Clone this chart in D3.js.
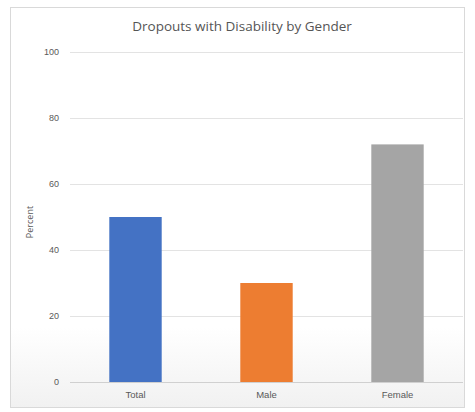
<!DOCTYPE html>
<html>
<head>
<meta charset="utf-8">
<script src="https://cdn.jsdelivr.net/npm/d3@7.9.0/dist/d3.min.js"></script>
<style>
  body { margin: 0; background: #fff; }
  svg { display: block; font-family: "Open Sans", "Noto Sans", sans-serif; }
</style>
</head>
<body>
<div id="chart"></div>
<script>
const categories = ['Total', 'Male', 'Female'];
const values = [50, 30, 72];
const colors = ['#4472c4', '#ed7d31', '#a5a5a5'];
const yTicks = [0, 20, 40, 60, 80, 100];

const width = 475;
const height = 412;

const svg = d3.select('#chart')
  .append('svg')
  .attr('width', width)
  .attr('height', height);

// soft background like the screenshot
const grad = svg.append('defs').append('linearGradient')
  .attr('id', 'bg').attr('x1', 0).attr('y1', 0).attr('x2', 0).attr('y2', 1);
grad.append('stop').attr('offset', '0.8').attr('stop-color', '#ffffff');
grad.append('stop').attr('offset', '1').attr('stop-color', '#f1f1f1');

svg.append('rect')
  .attr('x', 10.5).attr('y', 7.5)
  .attr('width', 454).attr('height', 400)
  .attr('fill', 'url(#bg)')
  .attr('stroke', '#d9d9d9');

const x = d3.scaleBand()
  .domain(categories)
  .range([70, 463])
  .paddingInner(0.6)
  .paddingOuter(0.3);

const y = d3.scaleLinear()
  .domain([0, 100])
  .range([382, 52]);

// gridlines
svg.append('g')
  .attr('transform', 'translate(70,0)')
  .call(d3.axisLeft(y).tickValues(yTicks).tickFormat('').tickSize(-393))
  .call(g => g.select('.domain').remove())
  .call(g => g.selectAll('line').attr('stroke', '#e3e3e3'));

// y tick labels
svg.append('g')
  .attr('transform', 'translate(70,0)')
  .call(d3.axisLeft(y).tickValues(yTicks).tickSize(0).tickPadding(11))
  .call(g => g.select('.domain').remove())
  .call(g => g.selectAll('text').attr('fill', '#595959').style('font-size', '9px'));

// bars
svg.append('g')
  .selectAll('rect')
  .data(values)
  .join('rect')
  .attr('x', (d, i) => x(categories[i]))
  .attr('y', d => y(d))
  .attr('width', x.bandwidth())
  .attr('height', d => y(0) - y(d))
  .attr('fill', (d, i) => colors[i]);

// baseline
svg.append('line')
  .attr('x1', 70).attr('x2', 463)
  .attr('y1', y(0) + 0.5).attr('y2', y(0) + 0.5)
  .attr('stroke', '#d0d0d0');

// x labels
svg.append('g')
  .attr('transform', `translate(0,${y(0)})`)
  .call(d3.axisBottom(x).tickSize(0).tickPadding(9))
  .call(g => g.select('.domain').remove())
  .call(g => g.selectAll('text').attr('fill', '#595959').style('font-size', '9.5px'));

// title
svg.append('text')
  .attr('x', 242).attr('y', 31)
  .attr('text-anchor', 'middle')
  .attr('fill', '#555555')
  .style('font-size', '13.5px')
  .text('Dropouts with Disability by Gender');

// y axis title
svg.append('text')
  .attr('transform', 'translate(33,222) rotate(-90)')
  .attr('text-anchor', 'middle')
  .attr('fill', '#595959')
  .style('font-size', '9px')
  .text('Percent');
</script>
</body>
</html>
